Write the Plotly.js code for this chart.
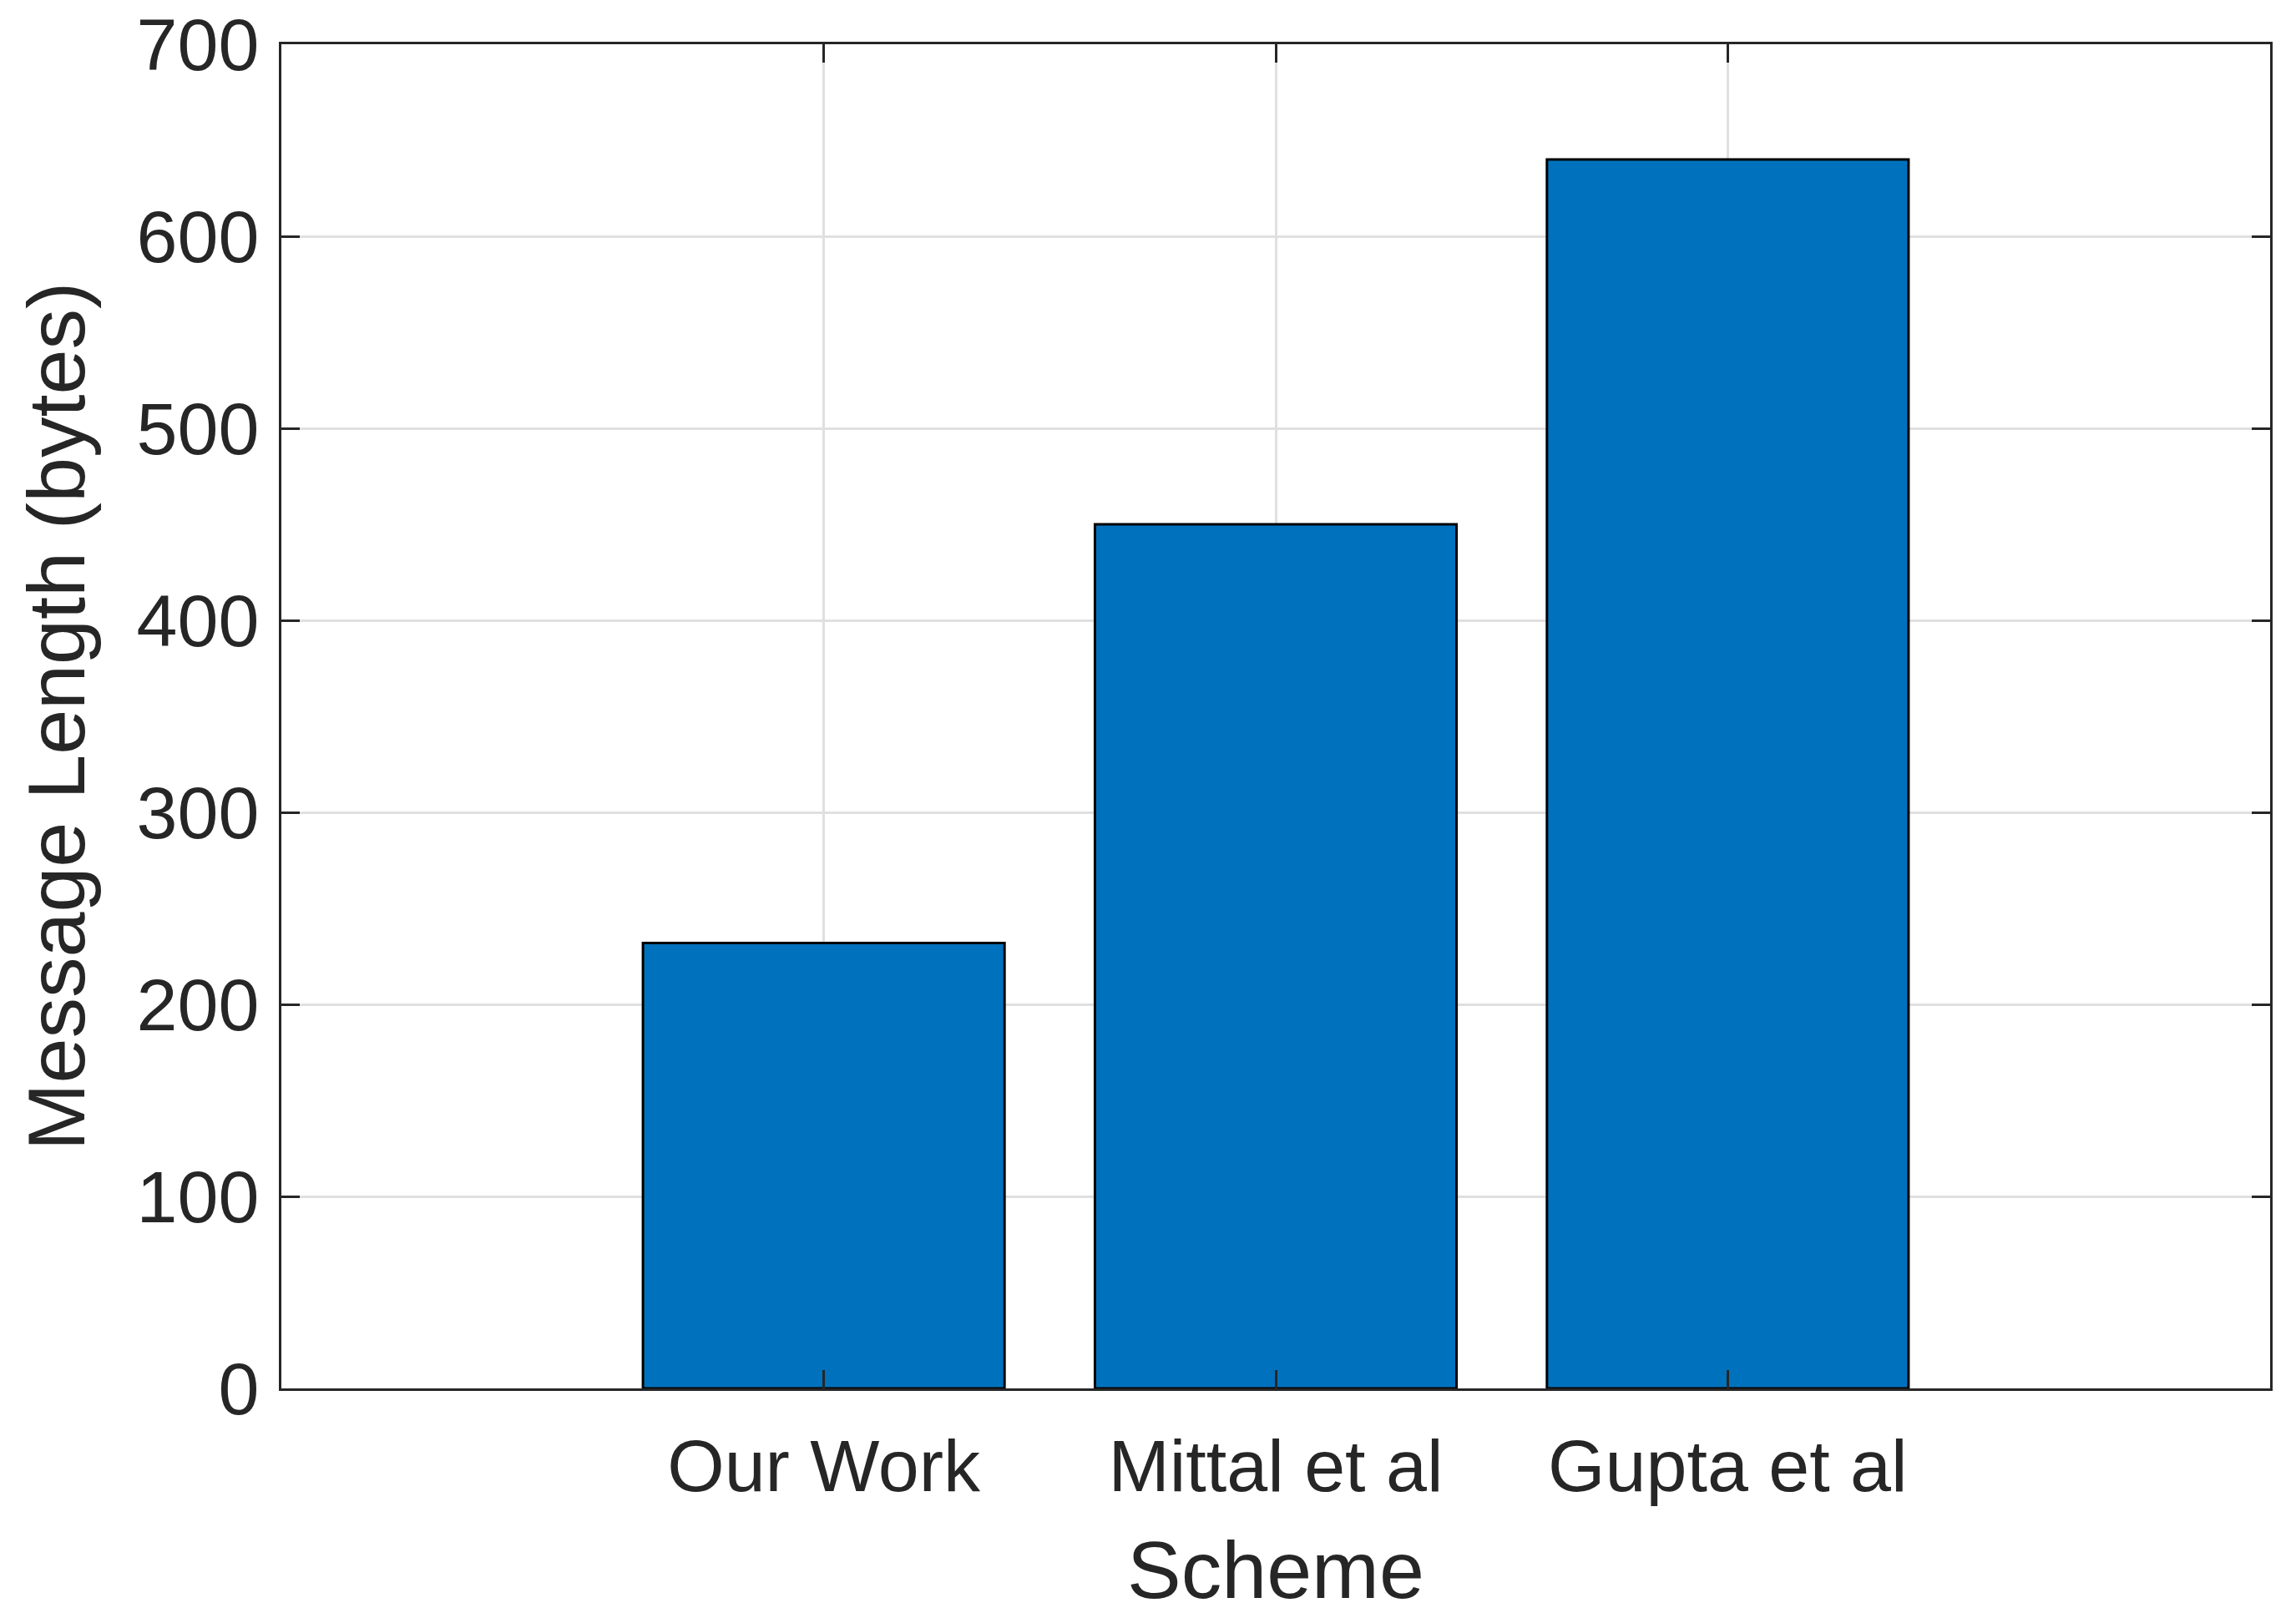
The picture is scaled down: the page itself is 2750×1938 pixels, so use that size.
<!DOCTYPE html>
<html>
<head>
<meta charset="utf-8">
<script src="https://cdn.plot.ly/plotly-3.0.1.min.js"></script>
<style>
    html, body { margin: 0; padding: 0; background: #ffffff; }
    #chart { width: 2750px; height: 1938px; }
</style>
</head>
<body>
<div id="chart"></div>
<script>
// data
const schemes = ['Our Work', 'Mittal et al', 'Gupta et al'];
const message_length = [232, 450, 640];
const y_ticks = [0, 100, 200, 300, 400, 500, 600, 700];

const ink = '#262626';
const font_family = 'Arial, "Liberation Sans", Helvetica, sans-serif';

const bars = {
    type: 'bar',
    x: schemes,
    y: message_length,
    width: 0.8,
    marker: {
        color: '#0072BD',
        line: { color: '#000000', width: 3 }
    },
    hoverinfo: 'x+y'
};

// shared axis look, MATLAB style box with inward ticks
const axis_style = {
    showline: true,
    linecolor: ink,
    linewidth: 3,
    mirror: 'ticks',
    ticks: 'inside',
    ticklen: 22,
    tickwidth: 3,
    tickcolor: ink,
    showgrid: true,
    gridcolor: '#e0e0e0',
    gridwidth: 3,
    zeroline: false,
    tickfont: { family: font_family, size: 88, color: ink }
};

const layout = {
    width: 2750,
    height: 1938,
    margin: { l: 337, r: 31, t: 53, b: 275 },
    paper_bgcolor: '#ffffff',
    plot_bgcolor: '#ffffff',
    showlegend: false,
    bargap: 0.2,
    xaxis: {
        ...axis_style,
        type: 'category',
        range: [-1.2, 3.2],
        ticklabelstandoff: 14
    },
    yaxis: {
        ...axis_style,
        range: [0, 700],
        tickvals: y_ticks,
        ticklabelstandoff: 6,
        title: {
            text: 'Message Length (bytes)',
            font: { family: font_family, size: 97, color: ink },
            standoff: 30
        }
    },
    // x title as annotation, the axis title gets squeezed by the margin
    annotations: [{
        text: 'Scheme',
        xref: 'paper', yref: 'paper',
        x: 0.5, y: 0,
        xanchor: 'center', yanchor: 'middle',
        yshift: -217,
        showarrow: false,
        font: { family: font_family, size: 97, color: ink }
    }]
};

Plotly.newPlot('chart', [bars], layout, { staticPlot: true });
</script>
</body>
</html>
